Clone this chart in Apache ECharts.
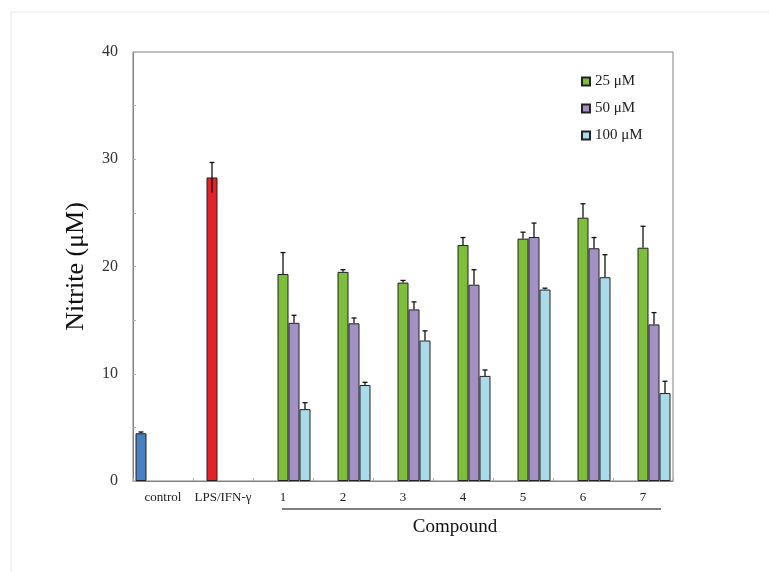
<!DOCTYPE html>
<html>
<head>
<meta charset="utf-8">
<script src="https://cdn.jsdelivr.net/npm/echarts@6/dist/echarts.min.js"></script>
<style>html,body{margin:0;padding:0;background:#fff}#c{width:769px;height:572px}</style>
</head>
<body>
<div id="c"></div>
<script>
const categories = ['control', 'LPS/IFN-γ', '1', '2', '3', '4', '5', '6', '7'];
const controlValues = [4.45, '-', '-', '-', '-', '-', '-', '-', '-'];
const controlErr =    [0.12, '-', '-', '-', '-', '-', '-', '-', '-'];
const lpsValues =     ['-', 28.3, '-', '-', '-', '-', '-', '-', '-'];
const lpsErr =        ['-', 1.4, '-', '-', '-', '-', '-', '-', '-'];
const values25 =  ['-', '-', 19.3, 19.5, 18.5, 22.0, 22.6, 24.55, 21.75];
const err25 =     ['-', '-', 2.0, 0.2, 0.2, 0.7, 0.6, 1.3, 2.0];
const values50 =  ['-', '-', 14.75, 14.7, 16.0, 18.3, 22.75, 21.7, 14.6];
const err50 =     ['-', '-', 0.7, 0.5, 0.7, 1.4, 1.3, 1.0, 1.1];
const values100 = ['-', '-', 6.7, 8.95, 13.1, 9.8, 17.85, 19.0, 8.2];
const err100 =    ['-', '-', 0.6, 0.25, 0.9, 0.55, 0.13, 2.1, 1.1];
const seriesNames = ['control', 'LPS/IFN-γ', '25 μM', '50 μM', '100 μM'];
const legendNames = ['25 μM', '50 μM', '100 μM'];
const yTicks = [0, 10, 20, 30, 40];

const colors = ['#4a7fc1', '#e3222a', '#7dbf3a', '#a391c4', '#a9dbe8'];
const BAR_W = 11;
const serif = '"Liberation Serif", "DejaVu Serif", serif';

const allValues = [controlValues, lpsValues, values25, values50, values100];
const allErr = [controlErr, lpsErr, err25, err50, err100];
const errData = [];
allValues.forEach((arr, s) => {
  arr.forEach((v, i) => {
    if (v !== '-') errData.push([i, v, allErr[s][i], s, s === 1 ? 1 : 0]);
  });
});

const chart = echarts.init(document.getElementById('c'));
const barSeries = allValues.map((arr, s) => ({
  name: seriesNames[s],
  type: 'bar',
  data: arr,
  barWidth: BAR_W,
  barGap: '0%',
  itemStyle: { color: colors[s], borderColor: '#222', borderWidth: 1 },
  z: 2
}));

chart.setOption({
  animation: false,
  backgroundColor: '#fff',
  grid: { left: 133, right: 96, top: 52, bottom: 91, show: true, borderColor: '#808080', borderWidth: 1 },
  legend: {
    data: legendNames,
    orient: 'vertical',
    left: 576,
    top: 69,
    itemWidth: 8,
    itemHeight: 8,
    itemGap: 12,
    icon: 'rect',
    textStyle: { fontFamily: serif, fontSize: 15, color: '#222', lineHeight: 15 }
  },
  xAxis: {
    type: 'category',
    data: categories,
    axisLine: { lineStyle: { color: '#808080', width: 1 } },
    axisTick: { show: true, inside: true, length: 3, lineStyle: { color: '#aaa' } },
    axisLabel: { fontFamily: serif, fontSize: 13, color: '#222', margin: 10, interval: 0 },
    splitLine: { show: false }
  },
  yAxis: {
    type: 'value',
    min: 0, max: 40, interval: 5,
    name: 'Nitrite (μM)',
    nameLocation: 'middle',
    nameRotate: 90,
    nameGap: 44,
    nameTextStyle: { fontFamily: serif, fontSize: 26, color: '#111' },
    axisLine: { show: true, lineStyle: { color: '#808080', width: 1 } },
    axisTick: { show: true, inside: true, length: 3, lineStyle: { color: '#aaa' } },
    axisLabel: {
      fontFamily: serif, fontSize: 16, color: '#333', margin: 15,
      formatter: v => (yTicks.indexOf(v) >= 0 ? String(v) : '')
    },
    splitLine: { show: false }
  },
  series: barSeries.concat([{
    type: 'custom',
    name: 'err',
    data: errData,
    encode: { x: 0, y: 1 },
    z: 5,
    renderItem: function (params, api) {
      const idx = api.value(0), v = api.value(1), e = api.value(2), s = api.value(3), both = api.value(4);
      const cx = api.coord([idx, 0])[0] + (s - 2) * BAR_W;
      const yTop = api.coord([idx, v + e])[1];
      const yBot = api.coord([idx, both ? v - e : v])[1];
      const st = { stroke: '#111', lineWidth: 1.3 };
      return {
        type: 'group',
        children: [
          { type: 'line', shape: { x1: cx, y1: yTop, x2: cx, y2: yBot }, style: st },
          { type: 'line', shape: { x1: cx - 2.5, y1: yTop, x2: cx + 2.5, y2: yTop }, style: st }
        ]
      };
    }
  }]),
  graphic: [
    { type: 'line', shape: { x1: 11, y1: 12, x2: 769, y2: 12 }, style: { stroke: '#e6e6e6', lineWidth: 1 } },
    { type: 'line', shape: { x1: 11, y1: 12, x2: 11, y2: 572 }, style: { stroke: '#e6e6e6', lineWidth: 1 } },
    { type: 'line', shape: { x1: 282, y1: 509, x2: 661, y2: 509 }, style: { stroke: '#555', lineWidth: 1.5 } },
    { type: 'text', x: 455, y: 527, style: { text: 'Compound', font: '19px ' + serif, fill: '#111', textAlign: 'center', textVerticalAlign: 'middle' } }
  ]
});
</script>
</body>
</html>
